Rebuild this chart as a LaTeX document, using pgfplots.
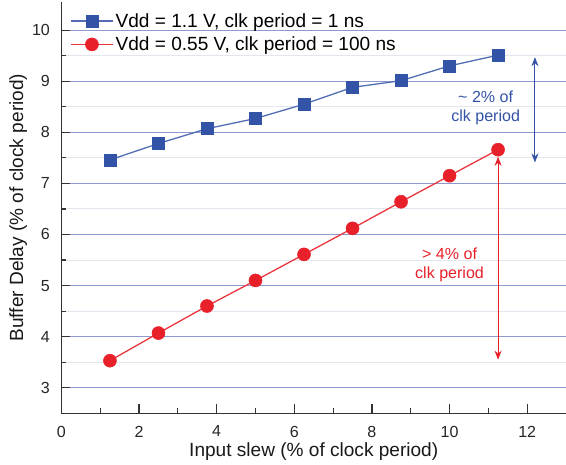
\documentclass[border=0pt]{standalone}
\usepackage{fontspec}
\setmainfont{Liberation Sans}
\usepackage{pgfplots}
\pgfplotsset{compat=1.18}
\usetikzlibrary{arrows.meta}
\definecolor{sblue}{HTML}{3353A6}
\definecolor{sred}{HTML}{E8202A}
\definecolor{gridblue}{HTML}{8C9AD0}
\definecolor{gridminor}{HTML}{E4E6EE}
\begin{document}
\begin{tikzpicture}
\begin{axis}[
  scale only axis, width=503pt, height=410pt,
  xmin=0, xmax=13, ymin=2.5, ymax=10.55,
  axis x line*=bottom, axis y line*=left,
  axis line style={line width=1.4pt, black!80},
  xtick={0,2,...,12}, minor xtick={1,3,...,11},
  ytick={3,...,10}, minor ytick={3.5,4.5,...,9.5},
  tick align=inside, major tick length=9pt, minor tick length=5pt,
  every tick/.style={line width=1.2pt, black!80},
  ymajorgrids, yminorgrids,
  major grid style={gridblue, line width=1pt},
  minor grid style={gridminor, line width=1pt},
  /pgf/number format/assume math mode=true,
  ticklabel style={font=\fontsize{16}{18}\selectfont, text=black!85},
  xticklabel style={yshift=-9pt},
  yticklabel style={xshift=-8pt},
  xlabel={Input slew (\% of clock period)},
  ylabel={Buffer Delay (\% of clock period)},
  label style={font=\fontsize{19}{22}\selectfont, text=black!90},
  xlabel style={yshift=1pt},
  ylabel style={yshift=-2pt},
  legend style={draw=none, fill=none, at={(0.015,0.98)}, anchor=north west,
    font=\fontsize{19}{22}\selectfont, row sep=4pt, inner sep=1pt},
  legend cell align=left,
  legend image code/.code={\draw[mark repeat=2, mark phase=2] plot coordinates {(0pt,0pt) (21pt,0pt) (42pt,0pt)};},
]
\addplot[color=sblue!85, line width=1.3pt, mark=square*, mark size=6pt,
  mark options={fill=sblue, draw=sblue, line width=0.5pt}] coordinates {
  (1.25,7.46) (2.5,7.78) (3.75,8.07) (5,8.27) (6.25,8.55)
  (7.5,8.88) (8.75,9.01) (10,9.30) (11.25,9.51)};
\addlegendentry{Vdd = 1.1 V, clk period = 1 ns}
\addplot[color=sred!90, line width=1.3pt, mark=*, mark size=6.5pt,
  mark options={fill=sred, draw=sred, line width=0.5pt}] coordinates {
  (1.25,3.53) (2.5,4.07) (3.75,4.60) (5,5.10) (6.25,5.61)
  (7.5,6.12) (8.75,6.64) (10,7.15) (11.25,7.66)};
\addlegendentry{Vdd = 0.55 V, clk period = 100 ns}
\draw[sblue, line width=1pt, {Stealth[length=9pt,width=7pt]}-{Stealth[length=9pt,width=7pt]}]
  (axis cs:12.2,9.47) -- (axis cs:12.2,7.41);
\node[sblue, font=\fontsize{16}{19}\selectfont, align=center] at (axis cs:10.93,8.47)
  {\textasciitilde{} 2\% of\\clk period};
\draw[sred, line width=1pt, {Stealth[length=9pt,width=7pt]}-{Stealth[length=9pt,width=7pt]}]
  (axis cs:11.25,7.52) -- (axis cs:11.25,3.55);
\node[sred, font=\fontsize{16}{19}\selectfont, align=center] at (axis cs:10.0,5.40)
  {> 4\% of\\clk period};
\end{axis}
\pgfresetboundingbox
\path ([xshift=-6pt]current axis.outer south west) rectangle ([yshift=2pt]current axis.north east);
\end{tikzpicture}
\end{document}
